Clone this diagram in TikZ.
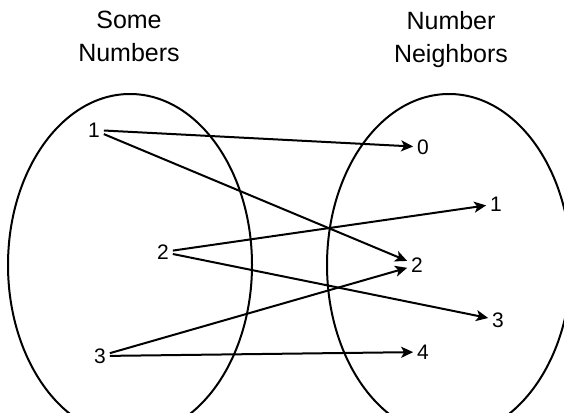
\documentclass[tikz,border=0pt]{standalone}
\usepackage{fontspec}
\setmainfont{Liberation Sans}
\usetikzlibrary{arrows.meta}

\begin{document}
\begin{tikzpicture}[x=1pt, y=-1pt,
  set/.style={draw, line width=2pt},
  title/.style={align=center, anchor=north, inner sep=0pt, font=\fontsize{25}{33}\selectfont},
  num/.style={inner sep=4pt, outer sep=0pt, font=\fontsize{21}{24}\selectfont},
  maps/.style={-{Stealth[length=12pt, width=11pt, inset=3pt]}, line width=2pt},
]
\useasboundingbox (0,0) rectangle (564,412);
\clip (0,0) rectangle (564,412);

% Sets
\draw[set] (130,265) ellipse [x radius=122pt, y radius=171pt];
\draw[set] (449,265) ellipse [x radius=122pt, y radius=171pt];
\node[title] (domain) at (129,11) {Some\\Numbers};
\node[title] (codomain) at (451,11) {Number\\Neighbors};

% Some numbers
\node[num] (a1) at (94,130) {1};
\node[num] (a2) at (163,252) {2};
\node[num] (a3) at (100,356) {3};

% Neighbors
\node[num] (b0) at (423,147) {0};
\node[num] (b1) at (496,204) {1};
\node[num] (b2) at (417,265) {2};
\node[num] (b3) at (498,320) {3};
\node[num] (b4) at (423,352) {4};

% Mapping
\draw[maps] (a1) -- (b0);
\draw[maps] (a1) -- (b2);
\draw[maps] (a2) -- (b1);
\draw[maps] (a2) -- (b3);
\draw[maps] (a3) -- (b2);
\draw[maps] (a3) -- (b4);
\end{tikzpicture}
\end{document}
